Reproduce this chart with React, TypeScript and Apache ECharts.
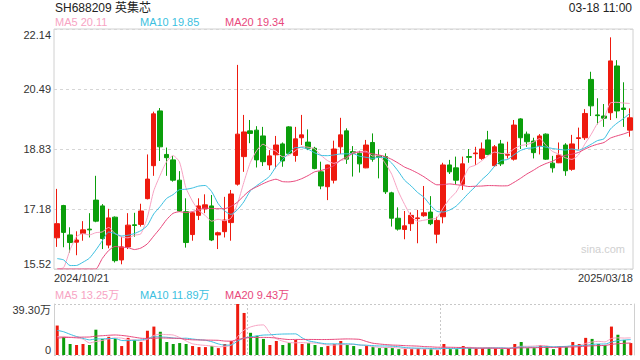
import React, { useEffect, useRef } from "react";
import * as echarts from "echarts";

// ---- data ----
const stockTitle = "SH688209 英集芯";
const timeStamp = "03-18 11:00";
const dateLabels = ["2024/10/21", "2025/03/18"];
const priceTicks = ["15.52", "17.18", "18.83", "20.49", "22.14"];
const volTicks = ["0", "39.30万"];
const maNames = ["MA5", "MA10", "MA20"];
const maLegendValues = ["20.11", "19.85", "19.34"];
const volMaLegendValues = ["13.25万", "11.89万", "9.43万"];

const opens = [
  16.38, 17.27, 16.46, 16.26, 16.5, 16.62, 17.42, 17.26, 16.18, 16.95,
  15.77, 16.13, 16.74, 16.75, 17.46, 18.37, 19.88, 18.68, 18.53, 17.97,
  17.1, 16.47, 17.0, 17.18, 17.26, 16.46, 16.55, 16.8, 17.86, 18.62,
  19.33, 19.35, 19.19, 18.39, 18.67, 18.97, 19.44, 18.65, 19.14, 19.02,
  18.85, 18.2, 17.79, 17.97, 18.89, 19.33, 18.76, 18.71, 18.31, 19.01,
  18.64, 18.62, 17.62, 16.92, 16.61, 16.77, 16.91, 16.99, 17.09, 16.48,
  16.96, 18.39, 18.31, 17.86, 18.62, 18.7, 18.57, 19.08, 18.37, 18.97,
  18.66, 18.55, 19.66, 19.24, 19.05, 18.92, 19.24, 18.44, 18.45, 18.94,
  18.27, 19.12, 19.14, 20.75, 19.77, 19.74, 19.83, 21.12, 19.96, 19.35,
];
const closes = [
  16.77, 16.53, 16.25, 16.32, 16.6, 16.6, 16.84, 16.36, 16.93, 15.75,
  16.13, 16.73, 16.72, 17.12, 18.0, 19.8, 18.89, 18.59, 17.97, 17.12,
  16.25, 17.07, 17.26, 17.29, 16.32, 16.52, 16.87, 17.59, 19.24, 19.3,
  19.26, 18.53, 18.48, 18.64, 18.94, 18.5, 18.71, 19.11, 19.22, 18.85,
  18.29, 17.81, 18.39, 18.83, 19.22, 18.55, 18.72, 18.42, 18.94, 18.55,
  18.6, 17.65, 16.92, 16.62, 16.71, 17.0, 16.93, 17.07, 16.77, 16.86,
  18.39, 18.2, 17.97, 18.42, 18.6, 18.72, 18.83, 18.68, 18.89, 18.42,
  18.68, 19.49, 19.14, 19.03, 18.73, 19.19, 18.55, 18.31, 18.66, 18.23,
  18.97, 19.14, 19.81, 20.02, 19.75, 19.68, 21.26, 19.88, 19.92, 19.69,
];
const lows = [
  16.13, 16.12, 15.97, 15.9, 16.3, 16.39, 16.81, 16.07, 16.09, 15.7,
  15.65, 16.07, 16.41, 16.69, 17.44, 18.09, 18.5, 18.09, 17.93, 17.1,
  16.11, 16.3, 16.87, 17.06, 16.29, 16.07, 16.39, 16.3, 17.82, 18.2,
  18.99, 18.32, 18.36, 18.25, 18.3, 18.34, 18.68, 18.48, 18.94, 18.8,
  18.27, 17.72, 17.42, 17.88, 18.69, 18.42, 18.07, 18.18, 18.3, 18.48,
  18.02, 17.59, 16.69, 16.58, 16.34, 16.57, 16.23, 16.96, 16.73, 16.23,
  16.78, 18.14, 17.86, 17.7, 18.45, 18.39, 18.53, 18.66, 18.34, 18.36,
  18.57, 18.51, 18.83, 18.89, 18.57, 18.68, 18.53, 18.18, 18.44, 18.09,
  18.23, 18.82, 19.08, 19.74, 19.51, 19.44, 19.63, 19.68, 19.44, 19.17,
];
const highs = [
  17.73, 17.29, 16.67, 16.56, 16.84, 17.06, 18.09, 17.31, 17.18, 16.97,
  16.41, 17.06, 17.07, 17.32, 18.68, 19.86, 19.96, 18.87, 18.64, 18.22,
  17.47, 17.09, 17.47, 17.58, 17.56, 16.55, 17.51, 17.7, 21.15, 19.77,
  19.63, 19.46, 19.44, 18.8, 19.19, 19.01, 19.46, 19.44, 19.77, 19.37,
  18.89, 18.48, 18.4, 19.06, 19.69, 19.4, 18.91, 18.78, 19.08, 19.26,
  18.82, 18.71, 17.65, 17.22, 17.12, 17.08, 17.15, 17.81, 17.53, 16.96,
  18.45, 18.53, 18.62, 18.62, 18.83, 18.89, 19.01, 19.33, 18.94, 19.08,
  19.03, 19.63, 19.68, 19.31, 19.14, 19.24, 19.26, 18.64, 19.01, 18.99,
  19.22, 19.42, 19.93, 20.96, 20.23, 20.07, 21.91, 21.28, 20.67, 19.95,
];
// volume in 万 (10k shares)
const volumes = [
  22.7, 14.0, 8.5, 7.7, 8.5, 7.7, 19.5, 12.4, 14.0, 12.4,
  6.9, 13.2, 11.6, 10.0, 18.7, 21.9, 17.9, 10.0, 8.5, 9.2,
  8.5, 6.9, 6.1, 6.1, 6.9, 5.3, 8.5, 10.8, 39.3, 32.4,
  17.1, 14.8, 12.4, 7.7, 10.8, 7.7, 9.2, 11.6, 8.5, 9.2,
  7.7, 6.1, 6.9, 8.5, 10.8, 7.7, 6.9, 4.5, 6.9, 6.1,
  5.3, 5.8, 5.3, 4.5, 4.5, 4.5, 5.3, 4.5, 4.5, 3.7,
  8.5, 4.5, 4.5, 6.9, 5.3, 5.3, 5.3, 5.3, 5.3, 4.5,
  5.3, 8.5, 10.0, 5.3, 5.3, 7.7, 6.9, 4.5, 6.9, 6.1,
  10.0, 8.5, 13.2, 12.4, 8.5, 7.7, 21.9, 15.6, 11.6, 9.2,
];
// sessions just before the window (oldest first), estimated from where the MA lines start
const closesBefore = [
  9.3, 9.4, 9.5, 9.7, 9.6, 9.8, 10.3, 12.5, 13.5, 16.6,
  16.9, 17.8, 16.3, 15.7, 15.5, 14.6, 13.8, 14.5, 16.2,
];
const volumesBefore = [
  5.5, 5.5, 6, 6, 6, 6, 6, 7, 8, 14,
  25, 28, 25, 22, 20, 12.3, 12, 11, 12,
];

const PRICE_MIN = 15.52;
const PRICE_MAX = 22.14;
const VOL_MAX = 39.3;
const maPeriods = [5, 10, 20];

const UP = "#ee1a0e";
const DOWN = "#0b9e0b";
const MA_COLORS = ["#f7a3c3", "#3bbfe0", "#e8487c"];
const FONT = 'Arial, "Liberation Sans", "Noto Sans CJK SC", sans-serif';

function movingAverage(before: number[], values: number[], n: number) {
  const all = before.concat(values);
  const off = before.length;
  return values.map((_, i) => {
    let s = 0;
    for (let k = 0; k < n; k++) s += all[off + i - k];
    return s / n;
  });
}

export default function App() {
  const ref = useRef<HTMLDivElement>(null);

  useEffect(() => {
    if (!ref.current) return;
    const chart = echarts.init(ref.current, undefined, { renderer: "svg" });
    const cats = closes.map((_, i) => String(i));
    const candles = closes.map((c, i) => [opens[i], c, lows[i], highs[i]]);
    const priceMAs = maPeriods.map((n) =>
      movingAverage(closesBefore, closes, n).map((v) => Math.max(v, PRICE_MIN))
    );
    const volMAs = maPeriods.map((n) => movingAverage(volumesBefore, volumes, n));
    const volBars = volumes.map((v, i) => ({
      value: v,
      itemStyle: { color: closes[i] >= opens[i] ? UP : DOWN },
    }));

    const legendX = [55, 140, 225];
    const graphics: any[] = [
      {
        type: "text",
        x: 55,
        y: 8,
        style: { text: stockTitle, fill: "#222", font: `12px ${FONT}`, verticalAlign: "middle", align: "left" },
      },
      {
        type: "text",
        x: 632,
        y: 8,
        style: { text: timeStamp, fill: "#222", font: `12px ${FONT}`, verticalAlign: "middle", align: "right" },
      },
      {
        type: "text",
        x: 603,
        y: 249,
        style: { text: "sina.com", fill: "#d0d0d0", font: `11px ${FONT}`, verticalAlign: "middle", align: "center" },
      },
    ];
    maNames.forEach((nm, k) => {
      graphics.push({
        type: "text",
        x: legendX[k],
        y: 22,
        style: { text: `${nm} ${maLegendValues[k]}`, fill: MA_COLORS[k], font: `11px ${FONT}`, verticalAlign: "middle", align: "left" },
      });
      graphics.push({
        type: "text",
        x: legendX[k],
        y: 295,
        style: { text: `${nm} ${volMaLegendValues[k]}`, fill: MA_COLORS[k], font: `11px ${FONT}`, verticalAlign: "middle", align: "left" },
      });
    });

    const labelStyle = { fontSize: 11, color: "#333", fontFamily: FONT };

    const option: any = {
      animation: false,
      backgroundColor: "#ffffff",
      textStyle: { fontFamily: FONT },
      grid: [
        { left: 54, right: 7, top: 29, height: 240, show: true, borderColor: "#d0d0d0", borderWidth: 1 },
        { left: 54, right: 6, top: 304, height: 51, show: false },
      ],
      xAxis: [
        {
          type: "category", gridIndex: 0, data: cats, boundaryGap: true,
          axisLine: { show: false }, axisTick: { show: false }, axisLabel: { show: false }, splitLine: { show: false },
        },
        {
          type: "value", gridIndex: 0, position: "bottom", min: 0, max: 1, interval: 1,
          axisLine: { show: false }, axisTick: { show: false }, splitLine: { show: false },
          axisLabel: {
            ...labelStyle, margin: 3, alignMinLabel: "left", alignMaxLabel: "right",
            formatter: (v: number) => dateLabels[Math.round(v)],
          },
        },
        {
          type: "category", gridIndex: 1, data: cats, boundaryGap: true,
          axisLine: { show: false }, axisTick: { show: false }, axisLabel: { show: false },
          splitLine: {
            show: true,
            interval: (i: number) => i === 30 || i === 60,
            lineStyle: { color: "#c8c8c8", type: [2, 2], width: 1 },
          },
        },
      ],
      yAxis: [
        { type: "value", gridIndex: 0, position: "left", min: PRICE_MIN, max: PRICE_MAX, show: false },
        {
          type: "value", gridIndex: 0, position: "left", min: 0, max: 4, interval: 1,
          axisLine: { show: false }, axisTick: { show: false },
          axisLabel: {
            ...labelStyle, margin: 3, verticalAlignMinLabel: "bottom", verticalAlignMaxLabel: "top",
            formatter: (v: number) => priceTicks[Math.round(v)],
          },
          splitLine: { show: true, lineStyle: { color: "#d6d6d6", type: [3, 3], width: 1.2 } },
        },
        { type: "value", gridIndex: 1, position: "left", min: 0, max: VOL_MAX, show: false },
        {
          type: "value", gridIndex: 1, position: "left", min: 0, max: 1, interval: 1,
          axisLine: { show: true, lineStyle: { color: "#d0d0d0" } }, axisTick: { show: false },
          axisLabel: {
            ...labelStyle, margin: 3, verticalAlignMinLabel: "bottom", verticalAlignMaxLabel: "top",
            formatter: (v: number) => volTicks[Math.round(v)],
          },
          splitLine: { show: true, lineStyle: { color: "#c8c8c8", type: [2, 2], width: 1 } },
        },
        {
          type: "value", gridIndex: 1, position: "right", min: 0, max: 1, interval: 1,
          axisLine: { show: true, lineStyle: { color: "#d0d0d0" } }, axisTick: { show: false },
          axisLabel: { show: false }, splitLine: { show: false },
        },
      ],
      series: [
        {
          type: "candlestick", xAxisIndex: 0, yAxisIndex: 0, data: candles, barWidth: 5,
          itemStyle: { color: UP, color0: DOWN, borderColor: UP, borderColor0: DOWN, borderWidth: 1 },
        },
        ...priceMAs.map((d, k) => ({
          type: "line", name: maNames[k], xAxisIndex: 0, yAxisIndex: 0, data: d,
          showSymbol: false, smooth: 0.2, lineStyle: { width: 1, color: MA_COLORS[k] },
        })),
        {
          type: "bar", xAxisIndex: 2, yAxisIndex: 2, data: volBars, barWidth: 3,
        },
        ...volMAs.map((d, k) => ({
          type: "line", name: "V" + maNames[k], xAxisIndex: 2, yAxisIndex: 2, data: d,
          showSymbol: false, smooth: 0.2, lineStyle: { width: 1, color: MA_COLORS[k] },
        })),
      ],
      graphic: graphics,
    };
    chart.setOption(option);
    return () => chart.dispose();
  }, []);

  return (
    <div
      ref={ref}
      style={{ position: "absolute", left: 0, top: 0, width: 640, height: 360, background: "#fff" }}
    />
  );
}
